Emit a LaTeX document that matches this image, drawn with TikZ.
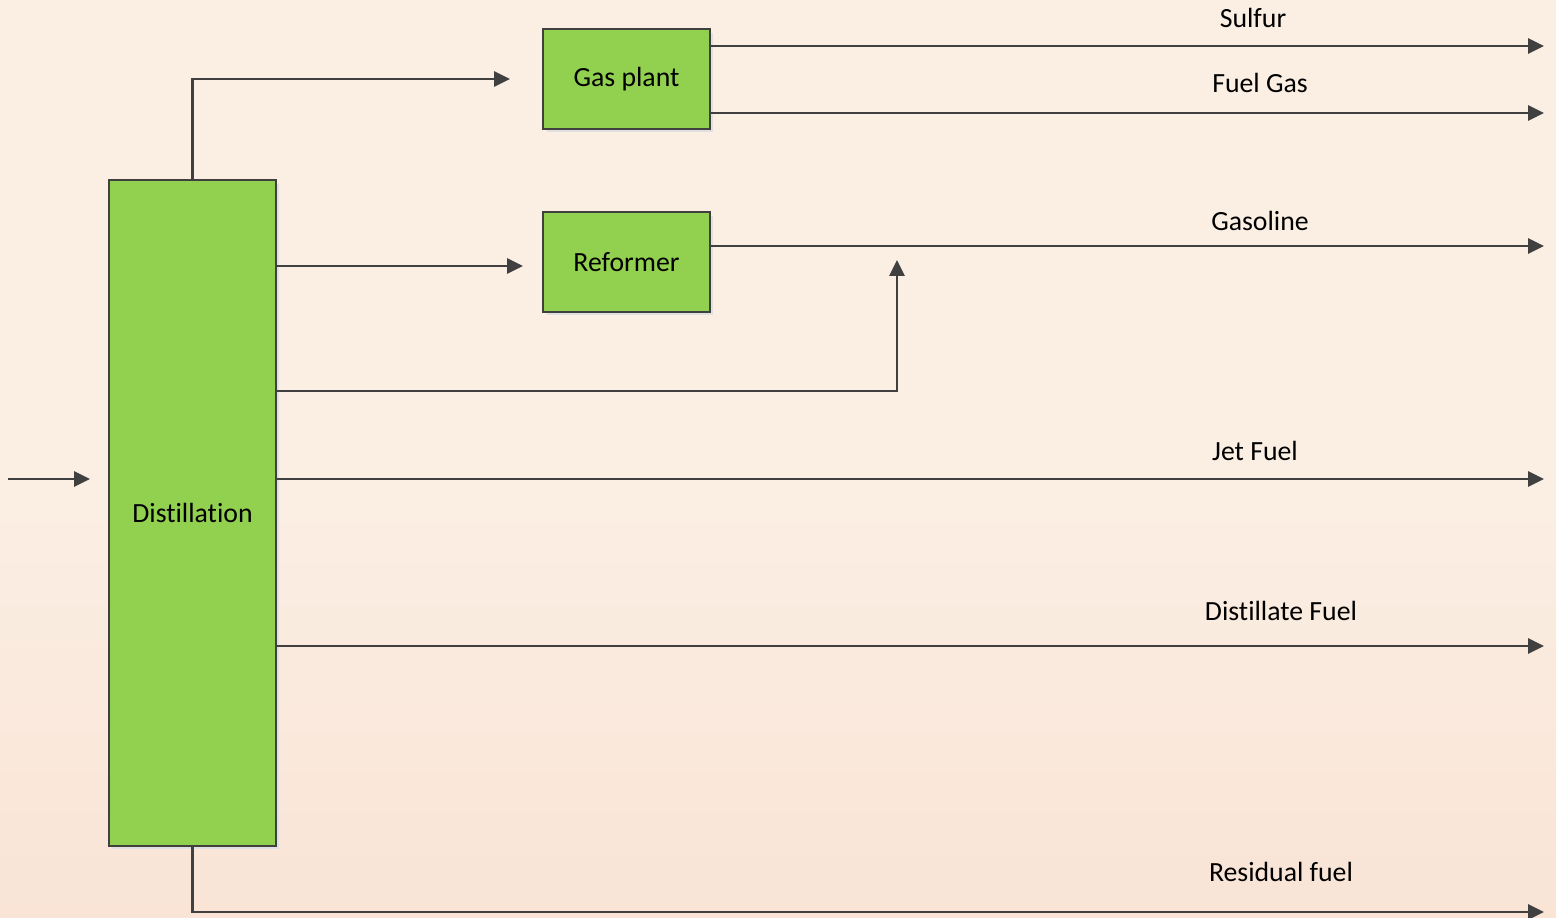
\documentclass[tikz,border=0pt]{standalone}
\usepackage{fontspec}
\setmainfont[RawFeature={-liga}]{Carlito}
\usetikzlibrary{arrows.meta,shadows}
\definecolor{unitgreen}{HTML}{92D050}
\definecolor{linegray}{HTML}{404040}
\definecolor{bgtop}{HTML}{FBEFE4}
\definecolor{bgbot}{HTML}{F9E4D6}

\begin{document}
\begin{tikzpicture}[x=0.02cm,y=-0.02cm,>={Triangle[length=0.32cm,width=0.3cm]},line width=1.6pt,
    unit/.style={draw=linegray,fill=unitgreen,line width=0.9pt,font=\fontsize{15.8}{19}\selectfont,
        drop shadow={shadow xshift=0.07cm,shadow yshift=-0.07cm,fill=black!12,opacity=1}},
    flow/.style={draw=linegray,line width=1.6pt,->},
    stream/.style={font=\fontsize{15.8}{19}\selectfont}]
    \useasboundingbox (0,0) rectangle (1556,918);
    \shade[top color=bgtop,bottom color=bgbot,middle color=bgtop] (0,0) rectangle (1556,918);
                \node[unit,minimum width=3.34cm,minimum height=13.32cm] (dist) at (192.5,513) {Distillation};
                \node[unit,minimum width=3.34cm,minimum height=2cm] (gas) at (626.5,79) {Gas plant};
                \node[unit,minimum width=3.34cm,minimum height=2cm] (reform) at (626.5,262) {Reformer};

                \coordinate (feed) at (8,479);
                \coordinate (feedend) at (90,479);
                \coordinate (gasin) at (510,79);
                \coordinate (refin) at (523,266);
                \coordinate (mixpt) at (897,391);
                \coordinate (mixup) at (897,260);
                \coordinate (sulfurend) at (1544,46);
                \coordinate (fuelgasend) at (1544,113);
                \coordinate (gasolineend) at (1544,246);
                \coordinate (jetend) at (1544,479);
                \coordinate (distend) at (1544,646);
                \coordinate (resend) at (1544,912);

                \node[stream] (lsulfur) at (1253,18) {Sulfur};
                \node[stream] (lfuelgas) at (1260,83) {Fuel Gas};
                \node[stream] (lgasoline) at (1260,221) {Gasoline};
                \node[stream] (ljet) at (1255,451) {Jet Fuel};
                \node[stream] (ldist) at (1281,611) {Distillate Fuel};
                \node[stream] (lres) at (1281,872) {Residual fuel};

                \path[every edge/.style={flow}]
                    (feed) edge (feedend)
                    (gas.east |- sulfurend) edge (sulfurend)
                    (gas.east |- fuelgasend) edge (fuelgasend)
                    (reform.east |- gasolineend) edge (gasolineend)
                    (dist.east |- refin) edge (refin)
                    (dist.east |- jetend) edge (jetend)
                    (dist.east |- distend) edge (distend)
                    ;
                \draw[flow] (dist.north) |- (gasin);
                \draw[flow] (dist.east |- mixpt) -- (mixpt) -- (mixup);
                \draw[flow] (dist.south) |- (resend);
            \end{tikzpicture}
\end{document}
